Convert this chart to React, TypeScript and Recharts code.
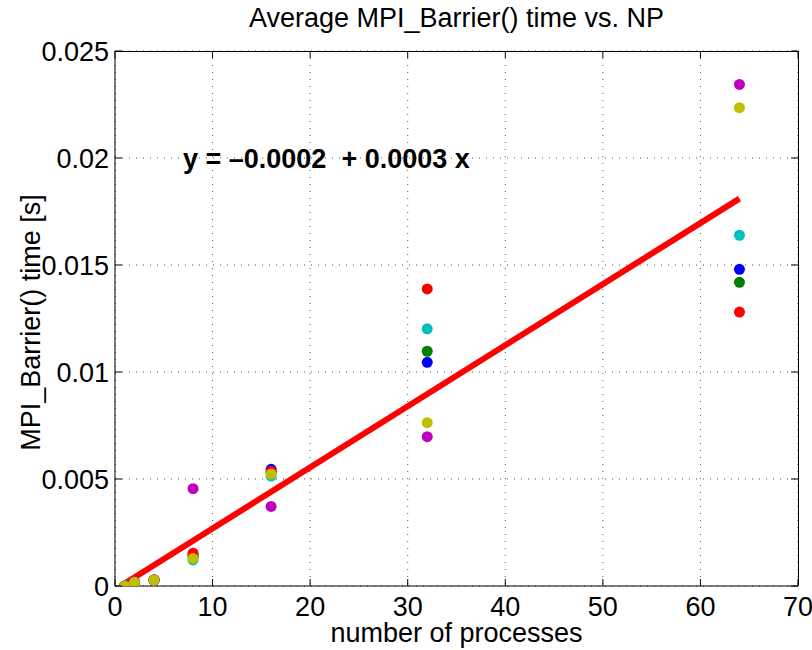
import React from "react";
import {
  ComposedChart,
  Scatter,
  XAxis,
  YAxis,
  CartesianGrid,
  ReferenceDot,
} from "recharts";

// number of processes
const NP = [1, 2, 4, 8, 16, 32, 64];

// average barrier time [s], one array per run colour
const BLUE_T = [0, 0.00017, 0.00028, 0.0014, 0.00545, 0.01045, 0.0148];
const GREEN_T = [0, 0.00017, 0.00028, 0.0014, 0.0053, 0.01097, 0.01419];
const RED_T = [0, 0.00017, 0.00028, 0.00153, 0.00536, 0.01388, 0.0128];
const CYAN_T = [0, 0.00017, 0.00028, 0.00122, 0.00514, 0.01202, 0.01639];
const MAGENTA_T = [0, 0.00017, 0.00028, 0.00455, 0.00372, 0.00698, 0.02344];
const YELLOW_T = [0, 0.00017, 0.00028, 0.00129, 0.00523, 0.00763, 0.02235];

// linear fit, drawn between first and last NP
const FIT_X = [1, 64];
const FIT_Y = [0.00012, 0.0181];
const FIT_LABEL = "y = \u20130.0002  + 0.0003 x";
const FIT_LABEL_AT = { x: 6.97, y: 0.01953 };

const X_MAX = 70;
const Y_MAX = 0.025;
const X_TICKS = [0, 10, 20, 30, 40, 50, 60, 70];
const Y_TICKS = [0, 0.005, 0.01, 0.015, 0.02, 0.025];

const SERIES = [
  { name: "b", values: BLUE_T, color: "#0000FF" },
  { name: "g", values: GREEN_T, color: "#008000" },
  { name: "r", values: RED_T, color: "#FF0000" },
  { name: "c", values: CYAN_T, color: "#00BFBF" },
  { name: "m", values: MAGENTA_T, color: "#BF00BF" },
  { name: "y", values: YELLOW_T, color: "#BFBF00" },
];

const W = 812;
const H = 650;
const MARGIN = { top: 51, right: 14, bottom: 0, left: 0 };
const Y_AXIS_W = 115;
const X_AXIS_H = 64;
const PLOT_W = W - MARGIN.left - MARGIN.right - Y_AXIS_W;
const PLOT_H = H - MARGIN.top - MARGIN.bottom - X_AXIS_H;

const FONT = "'Liberation Sans', Arial, Helvetica, sans-serif";
const FS = 27;
const TICK_LEN = 7;

const toPoints = (xs: number[], ys: number[]) => xs.map((x, i) => ({ x, y: ys[i] }));

// bottom tick: label below, inward ticks at bottom and top of the box
function BottomTick({ x, y, payload }: any) {
  return (
    <g>
      <line x1={x} y1={y} x2={x} y2={y - TICK_LEN} stroke="#000" />
      <line x1={x} y1={y - PLOT_H} x2={x} y2={y - PLOT_H + TICK_LEN} stroke="#000" />
      <text x={x} y={y + 30} textAnchor="middle" fontSize={FS} fontFamily={FONT} fill="#000">
        {String(payload.value)}
      </text>
    </g>
  );
}

// left tick: label to the left, inward ticks on left and right of the box
function LeftTick({ x, y, payload }: any) {
  return (
    <g>
      <line x1={x} y1={y} x2={x + TICK_LEN} y2={y} stroke="#000" />
      <line x1={x + PLOT_W} y1={y} x2={x + PLOT_W - TICK_LEN} y2={y} stroke="#000" />
      <text x={x - 6} y={y + 9.5} textAnchor="end" fontSize={FS} fontFamily={FONT} fill="#000">
        {String(payload.value)}
      </text>
    </g>
  );
}

const dot = (color: string) => (p: any) =>
  <circle cx={p.cx} cy={p.cy} r={5.5} fill={color} />;

export default function App() {
  return (
    <div
      style={{
        position: "absolute",
        left: 0,
        top: 0,
        width: W,
        height: H,
        background: "#fff",
        fontFamily: FONT,
      }}
    >
      <ComposedChart width={W} height={H} margin={MARGIN}>
        <CartesianGrid stroke="#555" strokeDasharray="1 6" />
        <XAxis
          dataKey="x"
          type="number"
          domain={[0, X_MAX]}
          ticks={X_TICKS}
          height={X_AXIS_H}
          tickSize={0}
          tickMargin={0}
          axisLine={{ stroke: "#000" }}
          tickLine={false}
          tick={<BottomTick />}
          allowDataOverflow
        />
        <YAxis
          dataKey="y"
          type="number"
          domain={[0, Y_MAX]}
          ticks={Y_TICKS}
          width={Y_AXIS_W}
          tickSize={0}
          tickMargin={0}
          axisLine={{ stroke: "#000" }}
          tickLine={false}
          tick={<LeftTick />}
          allowDataOverflow
        />

        {/* fit line first so the dots sit on top */}
        <Scatter
          name="fit"
          data={toPoints(FIT_X, FIT_Y)}
          line={{ stroke: "#FF0000", strokeWidth: 6 }}
          shape={() => <g />}
          isAnimationActive={false}
        />

        {SERIES.map((s) => (
          <Scatter
            key={s.name}
            name={s.name}
            data={toPoints(NP, s.values)}
            fill={s.color}
            shape={dot(s.color)}
            isAnimationActive={false}
          />
        ))}

        <ReferenceDot
          x={FIT_LABEL_AT.x}
          y={FIT_LABEL_AT.y}
          r={0}
          shape={(p: any) => (
            <text
              x={p.cx}
              y={p.cy}
              fontSize={FS}
              fontWeight="bold"
              fontFamily={FONT}
              fill="#000"
              style={{ whiteSpace: "pre" }}
            >
              {FIT_LABEL}
            </text>
          )}
        />
      </ComposedChart>

      {/* top and right edges of the axes box */}
      <div
        style={{
          position: "absolute",
          left: MARGIN.left + Y_AXIS_W,
          top: MARGIN.top,
          width: PLOT_W + 1,
          height: PLOT_H,
          borderTop: "1px solid #000",
          borderRight: "1px solid #000",
          boxSizing: "border-box",
          pointerEvents: "none",
        }}
      />

      {/* title */}
      <div
        style={{
          position: "absolute",
          left: 115,
          width: 683,
          top: 5,
          textAlign: "center",
          fontSize: FS,
          lineHeight: `${FS}px`,
          whiteSpace: "nowrap",
        }}
      >
        Average MPI_Barrier() time vs. NP
      </div>

      {/* x label */}
      <div
        style={{
          position: "absolute",
          left: 115,
          width: 683,
          top: 620,
          textAlign: "center",
          fontSize: FS,
          lineHeight: `${FS}px`,
          whiteSpace: "nowrap",
        }}
      >
        number of processes
      </div>

      {/* y label */}
      <div
        style={{
          position: "absolute",
          left: 30.5 - 200,
          top: 322 - FS / 2,
          width: 400,
          textAlign: "center",
          fontSize: FS,
          lineHeight: `${FS}px`,
          whiteSpace: "nowrap",
          transform: "rotate(-90deg)",
        }}
      >
        MPI_Barrier() time [s]
      </div>
    </div>
  );
}
